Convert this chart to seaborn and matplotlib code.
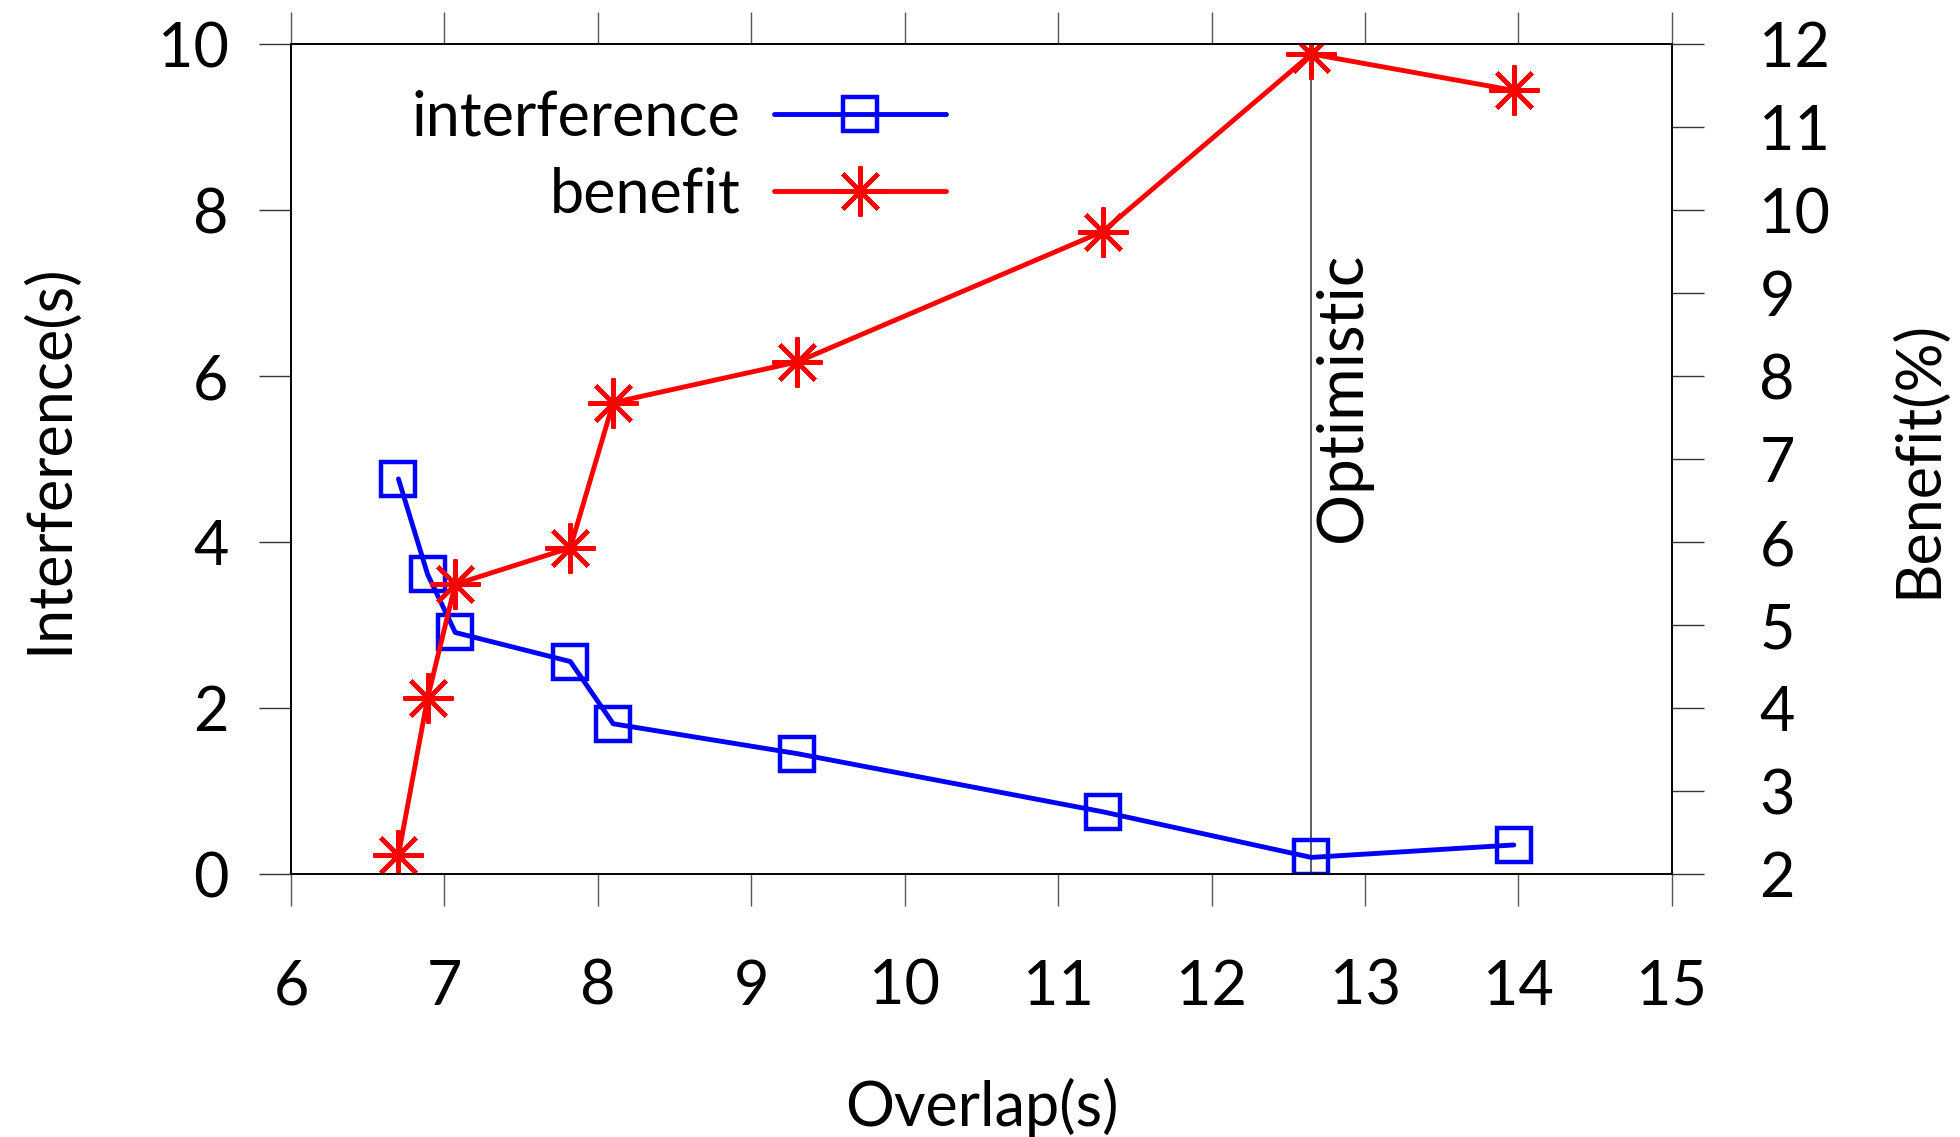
import matplotlib
matplotlib.use("Agg")
import matplotlib.pyplot as plt
import seaborn as sns

# values
overlap = [6.70, 6.89, 7.07, 7.82, 8.10, 9.30, 11.29, 12.65, 13.97]
interference = [4.76, 3.61, 2.91, 2.56, 1.81, 1.45, 0.75, 0.20, 0.35]
benefit = [2.23, 4.12, 5.49, 5.93, 7.68, 8.17, 9.74, 11.88, 11.44]
optimistic_x = 12.65

sns.set_theme(style="white")
plt.rcParams["font.family"] = ["Lato", "DejaVu Sans"]
plt.rcParams["text.color"] = "black"
plt.rcParams["axes.labelcolor"] = "black"
plt.rcParams["xtick.labelcolor"] = "black"
plt.rcParams["ytick.labelcolor"] = "black"
FS = 44

fig = plt.figure(figsize=(19.6, 11.37), dpi=100)
ax = fig.add_axes([0.1485, 0.2313, 0.853 - 0.1485, 0.9613 - 0.2313])
ax2 = ax.twinx()

sns.lineplot(x=overlap, y=interference, ax=ax, color="#0000ff", lw=3.5,
             marker="s", ms=25, mfc="none", mec="#0000ff", mew=3.2,
             label="interference", legend=False)
sns.lineplot(x=overlap, y=benefit, ax=ax2, color="#ff0000", lw=3.5,
             marker=(8, 2, 0), ms=36, mec="#ff0000", mew=3.2,
             label="benefit", legend=False)

ax.axvline(optimistic_x, color="#333333", lw=1.1, zorder=0)
ax.text(optimistic_x + 0.02, 4.0, "Optimistic", rotation=90, ha="left", va="bottom",
        fontsize=FS + 2)

ax.set_xlim(6, 15)
ax.set_ylim(0, 10)
ax2.set_ylim(2, 12)
ax.set_xticks(range(6, 16))
ax.set_yticks(range(0, 11, 2))
ax2.set_yticks(range(2, 13))

for a in (ax, ax2):
    for s in a.spines.values():
        s.set_color("black")
        s.set_linewidth(1.2)

ax.tick_params(axis="x", direction="out", length=23, width=1, color="#555555",
               top=True, bottom=True, labelsize=FS, pad=38)
ax.tick_params(axis="y", direction="out", length=23, width=1, color="#333333",
               left=True, right=False, labelsize=FS, pad=22)
ax2.tick_params(axis="y", direction="out", length=23, width=1, color="#333333",
                right=True, labelsize=FS, pad=40)
ax.grid(False)
ax2.grid(False)

ax.set_xlabel("Overlap(s)", fontsize=FS)
ax.set_ylabel("Interference(s)", fontsize=FS)
ax2.set_ylabel("Benefit(%)", fontsize=FS)
ax.xaxis.set_label_coords(0.5, -0.245)
ax.yaxis.set_label_coords(-0.154, 0.5)
ax2.yaxis.set_label_coords(1.158, 0.5)

h1, l1 = ax.get_legend_handles_labels()
h2, l2 = ax2.get_legend_handles_labels()
ax2.legend(h1 + h2, l1 + l2, loc="upper right", bbox_to_anchor=(0.474, 0.945),
           frameon=False, fontsize=FS, markerfirst=False, handlelength=2.8,
           handletextpad=0.55, labelspacing=0.33, borderpad=0, borderaxespad=0)

fig.savefig("out.png", dpi=100)
